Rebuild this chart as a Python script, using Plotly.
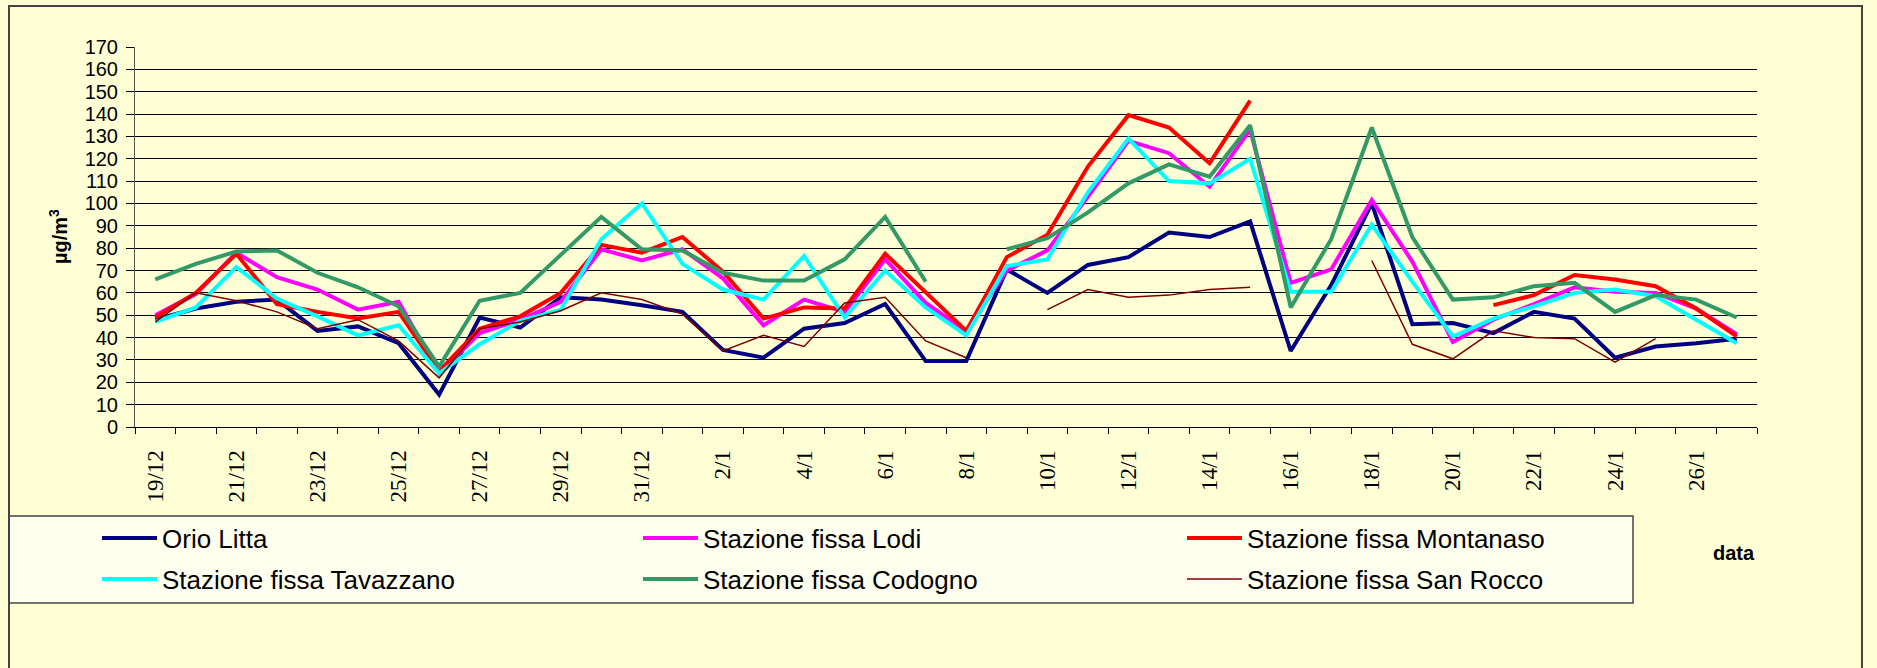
import plotly.graph_objects as go

dates = [f"{d}/12" for d in range(19, 32)] + [f"{d}/1" for d in range(1, 28)]
tick_text = [d if i % 2 == 0 else "" for i, d in enumerate(dates)]

orio_litta = [48, 53, 56, 57, 43, 45, 37.5, 14.5, 49, 44.5, 58, 57, 54.5, 51.5, 34.5, 31,
              44, 46.5, 55, 29.5, 29.5, 70.5, 60, 72.5, 76, 87, 85, 92, 34, 63.5, 100, 46,
              46.5, 42, 51.5, 48.5, 31, 36, 37.5, 39.5]
lodi = [50, 59.5, 78, 67, 61.5, 52.5, 56, 24, 42, 48, 56, 79.5, 74.5, 79.5, 66.5, 45.5,
        57, 51.5, 75, 55.5, 43, 70, 79, 103, 128, 122.5, 107.5, 133, 64.5, 70.5, 101.5, 74,
        38, 48, 55, 62.5, 60.5, 60, 53, 41.5]
montanaso = [49, 60, 77.5, 55, 51.5, 48.5, 51.5, 25, 44, 49.5, 60, 81.5, 78, 85, 69.5, 48.5,
             53.5, 53, 77.5, 60, 43, 76, 86, 116.5, 139.5, 134, 118, 146, None, None, None, None,
             None, 54.5, 59, 68, 66, 63, 53, 40.5]
tavazzano = [47, 53.5, 71.5, 57.5, 49.5, 41, 45.5, 24, 37, 47.5, 52.5, 84, 100, 73, 61.5, 57,
             76.5, 49, 70, 53.5, 41, 72, 75, 105, 129, 110, 109, 120, 60.5, 60.5, 90.5, 65,
             40.5, 48.5, 54, 60, 61.5, 58.5, 48, 37.5]
codogno = [66, 73, 78.5, 79, 69, 62.5, 54, 27, 56.5, 60, 77, 94, 79.5, 79, 69, 65.5,
           65.5, 75, 94, 65, None, 79.5, 84.5, 96, 109, 117.5, 112, 135, 53.5, 84, 134, 85,
           57, 58, 63, 64.5, 51.5, 59, 57, 49]
san_rocco = [47, 60, 56.5, 51.5, 44, 48, 38.5, 22, 44, 47, 52, 60, 57, 50.5, 34, 41,
             36, 55.5, 58, 38.5, 31, None, 52.5, 61.5, 58, 59, 61.5, 62.5, None, None, 74.5, 37,
             30.5, 43, 40, 39.5, 29, 39.5, None, None]

W, H = 1877, 668
L, R, T, B = 135, 120, 47, 241
pw, ph = W - L - R, H - T - B

def px_x(p):
    return (p - L) / pw

def px_y(p):
    return (H - B - p) / ph

# (name, values, colour, width, legend column x px, legend row y px)
series = [
    ("Orio Litta", orio_litta, "#000080", 4, 97, 538),
    ("Stazione fissa Lodi", lodi, "#FF00FF", 4, 638, 538),
    ("Stazione fissa Montanaso", montanaso, "#FF0000", 4, 1182, 538),
    ("Stazione fissa Tavazzano", tavazzano, "#00FFFF", 4, 97, 579),
    ("Stazione fissa Codogno", codogno, "#339966", 4, 638, 579),
    ("Stazione fissa San Rocco", san_rocco, "#800000", 1.5, 1182, 579),
]

fig = go.Figure()
legends = {}
for k, (name, vals, color, width, lx, ly) in enumerate(series):
    lg = "legend" if k == 0 else f"legend{k + 1}"
    fig.add_trace(go.Scatter(x=dates, y=vals, name=name, mode="lines",
                             line=dict(color=color, width=width), legend=lg,
                             connectgaps=False))
    legends[lg] = dict(orientation="v", xref="container", yref="container",
                       x=lx / W, y=1 - ly / H, xanchor="left", yanchor="middle",
                       bgcolor="rgba(0,0,0,0)", borderwidth=0, itemwidth=55,
                       font=dict(family="Liberation Sans, Arial", size=26, color="#000"))

fig.update_layout(
    width=W, height=H,
    margin=dict(l=L, r=R, t=T, b=B, autoexpand=False),
    paper_bgcolor="#FFFFD6", plot_bgcolor="rgba(0,0,0,0)",
    showlegend=True,
    xaxis=dict(type="category", range=[-0.5, len(dates) - 0.5],
               tickvals=dates, ticktext=tick_text, tickson="boundaries",
               ticks="outside", ticklen=6, tickcolor="#000", tickwidth=1,
               tickangle=-90, showgrid=False, showline=True, linecolor="#000", linewidth=1,
               tickfont=dict(family="Liberation Serif, Times New Roman", size=23, color="#000"),
               ticklabelstandoff=13),
    yaxis=dict(range=[0, 170], dtick=10, tick0=0, showgrid=True, gridcolor="#000", gridwidth=1,
               ticks="outside", ticklen=8, tickcolor="#000", showline=True, linecolor="#555",
               linewidth=1, zeroline=False,
               tickfont=dict(family="Liberation Sans, Arial", size=20, color="#000"),
               ticklabelstandoff=4),
    shapes=[
        dict(type="rect", xref="paper", yref="paper", layer="below",
             x0=px_x(9), x1=px_x(1633), y0=px_y(516), y1=px_y(603),
             fillcolor="#FFFFF0", line=dict(color="#444", width=1.5)),
        dict(type="rect", xref="paper", yref="paper", layer="below",
             x0=px_x(9), x1=px_x(1862), y0=px_y(6), y1=px_y(680),
             fillcolor="rgba(0,0,0,0)", line=dict(color="#444", width=2)),
    ],
    annotations=[
        dict(text="<b>µg/m<sup>3</sup></b>", xref="paper", yref="paper",
             x=px_x(58), y=0.5, textangle=-90,
             xanchor="center", yanchor="middle", showarrow=False,
             font=dict(family="Liberation Sans, Arial", size=20, color="#000")),
        dict(text="<b>data</b>", xref="paper", yref="paper", x=px_x(1734), y=px_y(553),
             xanchor="center", yanchor="middle", showarrow=False,
             font=dict(family="Liberation Sans, Arial", size=20, color="#000")),
    ],
)
fig.update_layout(**legends)

fig.write_html("out.html", config={"displayModeBar": False},
               post_script="document.body.style.margin='0';document.body.style.background='#FFFFD6';")
